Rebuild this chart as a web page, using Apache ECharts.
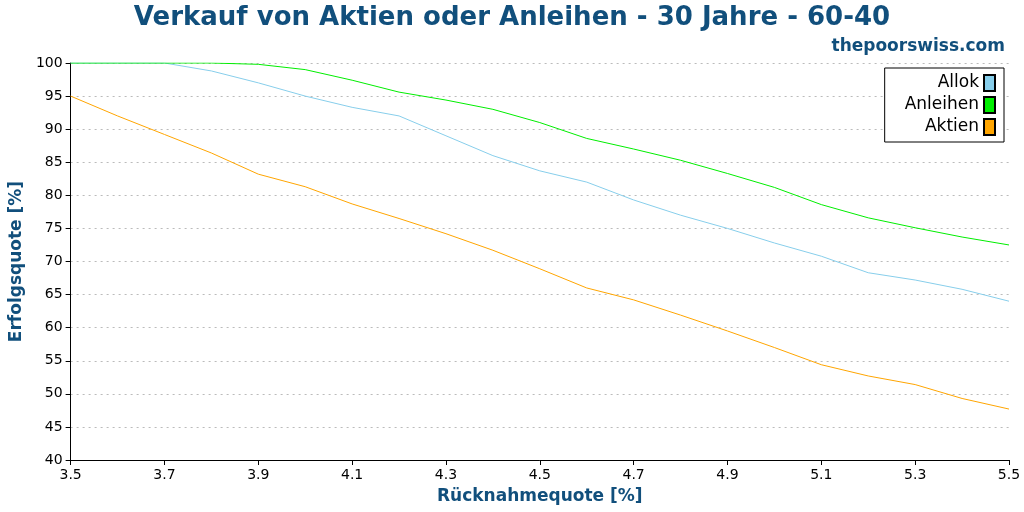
<!DOCTYPE html>
<html>
<head>
<meta charset="utf-8">
<script src="https://cdn.jsdelivr.net/npm/echarts@6/dist/echarts.min.js"></script>
<style>html,body{margin:0;padding:0;background:#fff}#chart{width:1024px;height:512px}</style>
</head>
<body>
<div id="chart"></div>
<script>
// Rücknahmequote [%]
var rates = [3.5, 3.6, 3.7, 3.8, 3.9, 4.0, 4.1, 4.2, 4.3, 4.4, 4.5, 4.6, 4.7, 4.8, 4.9, 5.0, 5.1, 5.2, 5.3, 5.4, 5.5]
var allok = [100, 100, 100, 98.8, 97, 95, 93.3, 92, 89, 86, 83.7, 82, 79.3, 77, 75, 72.8, 70.8, 68.3, 67.2, 65.8, 64]
var anleihen = [100, 100, 100, 100, 99.8, 99, 97.4, 95.6, 94.4, 93, 91, 88.6, 87, 85.3, 83.3, 81.2, 78.6, 76.6, 75.1, 73.7, 72.5]
var aktien = [95, 92, 89.2, 86.4, 83.2, 81.3, 78.7, 76.5, 74.2, 71.7, 68.9, 66, 64.2, 61.9, 59.5, 57, 54.4, 52.7, 51.4, 49.3, 47.7]

function pairs(vals) {
  return rates.map(function (r, i) { return [r, vals[i]] })
}

var chart = echarts.init(document.getElementById('chart'))
var font = 'DejaVu Sans'
var blue = '#114f7c'

function line(name, vals, color) {
  return {
    name: name,
    type: 'line',
    data: pairs(vals),
    showSymbol: false,
    lineStyle: { width: 1, color: color },
    itemStyle: { color: color, borderColor: '#000', borderWidth: 1 }
  }
}

chart.setOption({
  animation: false,
  textStyle: { fontFamily: font },
  title: [
    { text: 'Verkauf von Aktien oder Anleihen - 30 Jahre - 60-40', left: 'center', top: 0,
      textStyle: { fontFamily: font, fontSize: 26, fontWeight: 'bold', color: blue } },
    { text: 'thepoorswiss.com', right: 14, top: 33,
      textStyle: { fontFamily: font, fontSize: 17, fontWeight: 'bold', color: blue } }
  ],
  legend: {
    data: ['Allok', 'Anleihen', 'Aktien'],
    orient: 'vertical', right: 20, top: 68,
    align: 'right', itemWidth: 11, itemHeight: 16, itemGap: 4,
    icon: 'rect',
    borderColor: '#000', borderWidth: 1, padding: [6, 8, 6, 20],
    backgroundColor: '#fff',
    textStyle: { fontFamily: font, fontSize: 17, color: '#000' }
  },
  grid: { left: 69, right: 15, top: 63, bottom: 52 },
  xAxis: {
    type: 'value', min: 3.5, max: 5.5, interval: 0.2,
    name: 'Rücknahmequote [%]', nameLocation: 'middle', nameGap: 28,
    nameTextStyle: { fontFamily: font, fontSize: 17, fontWeight: 'bold', color: blue },
    axisLine: { lineStyle: { color: '#000' } },
    axisTick: { lineStyle: { color: '#000' } },
    axisLabel: { color: '#000', fontSize: 14, formatter: function (v) { return v.toFixed(1) } },
    splitLine: { show: false }
  },
  yAxis: {
    type: 'value', min: 40, max: 100, interval: 5,
    name: 'Erfolgsquote [%]', nameLocation: 'middle', nameGap: 42,
    nameTextStyle: { fontFamily: font, fontSize: 17, fontWeight: 'bold', color: blue },
    axisLine: { show: true, lineStyle: { color: '#000' } },
    axisTick: { show: true, lineStyle: { color: '#000' } },
    axisLabel: { color: '#000', fontSize: 14 },
    splitLine: { lineStyle: { color: '#bbb', type: [2, 4] } }
  },
  series: [
    line('Allok', allok, '#87ceeb'),
    line('Anleihen', anleihen, '#00ee00'),
    line('Aktien', aktien, '#ffa500')
  ]
})
</script>
</body>
</html>
